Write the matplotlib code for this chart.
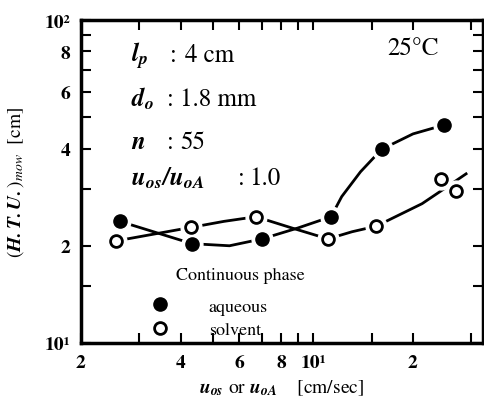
import matplotlib
matplotlib.use("Agg")
import matplotlib.pyplot as plt

plt.rcParams["font.family"] = ["STIXGeneral", "DejaVu Serif"]
plt.rcParams["mathtext.fontset"] = "stix"

# --- DATA ---
aq_x = [2.62, 4.32, 7.02, 11.33, 16.1, 24.8]
aq_y = [23.8, 20.3, 21.0, 24.6, 39.8, 47.3]
sol_x = [2.55, 4.29, 6.73, 11.09, 15.5, 24.3, 26.9]
sol_y = [20.7, 22.8, 24.6, 21.0, 23.0, 32.3, 29.6]

# hand drawn curves through the points
aq_curve_x = [2.62, 4.32, 5.6, 7.02, 9.0, 11.33, 12.2, 13.9, 16.1, 20.0, 24.8]
aq_curve_y = [23.8, 20.3, 20.0, 21.0, 22.7, 24.6, 28.4, 33.9, 39.8, 44.4, 47.3]
sol_curve_x = [2.55, 4.29, 5.39, 6.73, 8.64, 11.09, 13.1, 15.5, 21.3, 24.8, 28.9]
sol_curve_y = [20.7, 22.8, 23.8, 24.6, 22.7, 21.0, 22.1, 23.0, 27.0, 30.0, 33.4]

x_ticks = [2, 3, 4, 5, 6, 7, 8, 9, 10, 15, 20, 30]
x_labels = ["2", "", "4", "", "6", "", "8", "", "10¹", "", "2", ""]
y_ticks = [10, 15, 20, 30, 40, 50, 60, 70, 80, 90, 100]
y_labels = ["10¹", "", "2", "", "4", "", "6", "", "8", "", "10²"]

W, H = 484, 402
fig = plt.figure(figsize=(W / 100, H / 100), dpi=100)
ax = fig.add_axes([81 / W, (H - 344) / H, (483 - 81) / W, (344 - 21) / H])

ax.plot(aq_curve_x, aq_curve_y, color="black", lw=2.0, zorder=2)
ax.plot(sol_curve_x, sol_curve_y, color="black", lw=2.0, zorder=2)

# white halo -> gap in the line around each mark
ax.plot(aq_x, aq_y, "o", ms=15, color="white", zorder=3)
ax.plot(sol_x, sol_y, "o", ms=15, color="white", zorder=3)
ax.plot(aq_x, aq_y, "o", ms=9.5, color="black", ls="none", zorder=4, label="aqueous")
ax.plot(sol_x, sol_y, "o", ms=8.5, mfc="white", mec="black", mew=2, ls="none",
        zorder=4, label="solvent")

ax.set_xscale("log")
ax.set_yscale("log")
ax.set_xlim(2, 32.5)
ax.set_ylim(10, 100)
ax.set_xticks(x_ticks)
ax.set_xticklabels(x_labels, fontweight="bold")
ax.set_yticks(y_ticks)
ax.set_yticklabels(y_labels, fontweight="bold")
ax.minorticks_off()
ax.tick_params(direction="in", length=7, width=1.5, labelsize=14, pad=8,
               top=True, right=True)
for s in ax.spines.values():
    s.set_linewidth(2.5)

ax.set_xlabel(r"$\mathbfit{u_{os}}$ or $\mathbfit{u_{oA}}$    [cm/sec]", fontsize=14)
ax.xaxis.set_label_coords(0.5, -0.108)
ax.set_ylabel(r"$(\mathbfit{H.T.U.})_{mow}$  [cm]", fontsize=14)
ax.yaxis.set_label_coords(-0.137, 0.5)

def px(x, y):
    return x / W, 1 - y / H

fs = 18
fig.text(*px(131, 62), r"$\mathbfit{l_p}$", fontsize=fs, va="baseline")
fig.text(*px(170, 62), ":", fontsize=fs, va="baseline")
fig.text(*px(185, 62), "4 cm", fontsize=fs, va="baseline")
fig.text(*px(131, 106), r"$\mathbfit{d_o}$", fontsize=fs, va="baseline")
fig.text(*px(167, 106), ":", fontsize=fs, va="baseline")
fig.text(*px(180, 106), "1.8 mm", fontsize=fs, va="baseline")
fig.text(*px(131, 149), r"$\mathbfit{n}$", fontsize=fs, va="baseline")
fig.text(*px(167, 149), ":", fontsize=fs, va="baseline")
fig.text(*px(180, 149), "55", fontsize=fs, va="baseline")
fig.text(*px(131, 185), r"$\mathbfit{u_{os}/u_{oA}}$", fontsize=fs, va="baseline")
fig.text(*px(238, 185), ":", fontsize=fs, va="baseline")
fig.text(*px(249, 185), "1.0", fontsize=fs, va="baseline")
fig.text(*px(387, 55), "25°C", fontsize=fs, va="baseline")

fig.text(*px(176, 280), "Continuous phase", fontsize=13, va="baseline")
leg = ax.legend(loc="upper left", bbox_to_anchor=px(151, 299), bbox_transform=fig.transFigure,
                frameon=False, fontsize=13, handlelength=1.0, handletextpad=2.2,
                labelspacing=0.4, borderpad=0, borderaxespad=0)

fig.savefig("out.png", dpi=100)
